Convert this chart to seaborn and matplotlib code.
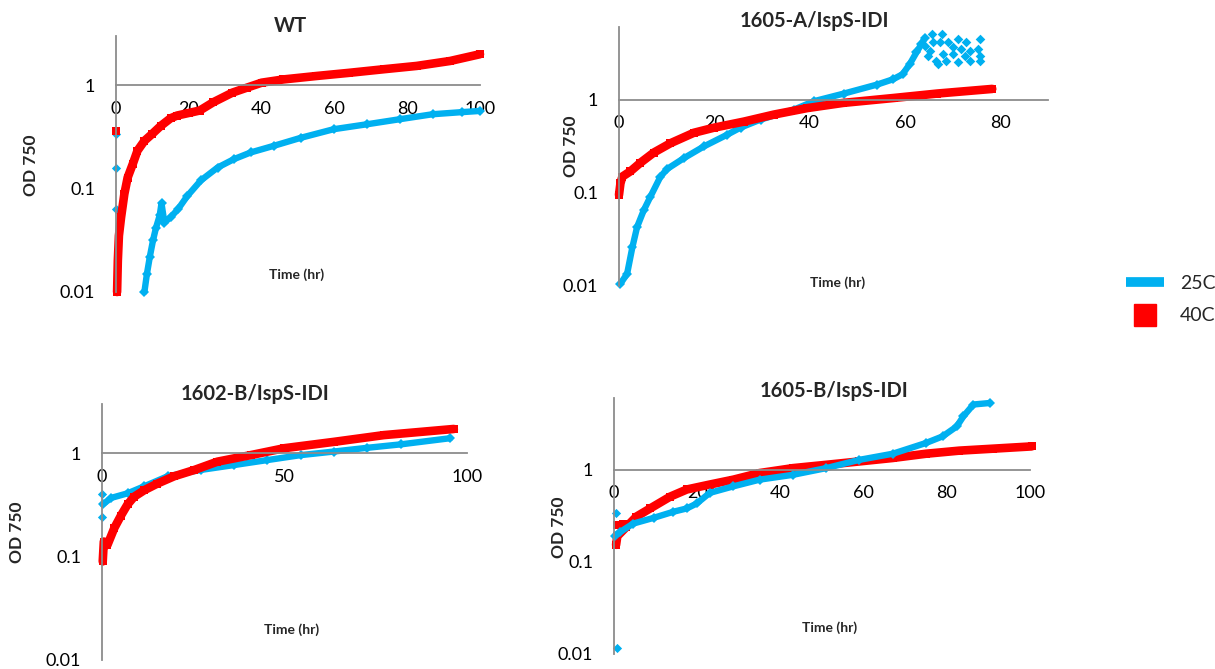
import numpy as np
import pandas as pd
import matplotlib
matplotlib.use("Agg")
import matplotlib.pyplot as plt
import seaborn as sns
from matplotlib.lines import Line2D
from matplotlib.ticker import FixedLocator, NullLocator

# ---------------- data ----------------
# WT
wt_25_t = [7.8, 8.5, 9.3, 10.2, 11.0, 12.0, 12.5, 13.3, 15, 17, 19.6, 23.3, 27.9, 32.4, 37, 43.4, 50.7, 59.8, 69, 78, 87, 95, 100]
wt_25_od = [0.010, 0.015, 0.022, 0.032, 0.042, 0.055, 0.072, 0.047, 0.053, 0.063, 0.085, 0.12, 0.16, 0.193, 0.224, 0.26, 0.31, 0.376, 0.42, 0.47, 0.525, 0.55, 0.565]
wt_25_out_t = [0, 0, 0]
wt_25_out_od = [0.34, 0.16, 0.064]
wt_40_t = [0.3, 0.5, 0.8, 1.4, 2.3, 3.2, 4.6, 5.9, 7.8, 10, 12.3, 15, 16.8, 20, 23, 26.7, 32, 36, 40, 46, 55, 64, 73.5, 82.6, 91.8, 100]
wt_40_od = [0.010, 0.020, 0.035, 0.053, 0.089, 0.128, 0.173, 0.233, 0.29, 0.34, 0.405, 0.48, 0.51, 0.54, 0.57, 0.685, 0.85, 0.95, 1.06, 1.14, 1.23, 1.32, 1.43, 1.54, 1.72, 2.0]
wt_40_out_t = [0]
wt_40_out_od = [0.36]

# 1605-A/IspS-IDI
a_25_t = [0.3, 1.7, 2.8, 3.8, 5.2, 6.6, 8.7, 10.1, 13.6, 17.8, 22.7, 25.5, 29.7, 36.7, 40.9, 47.2, 54.2, 57.5, 59.5, 61.0, 62.4, 63.4, 64.2]
a_25_od = [0.0106, 0.0135, 0.026, 0.043, 0.065, 0.091, 0.149, 0.18, 0.235, 0.314, 0.42, 0.5, 0.61, 0.78, 0.96, 1.16, 1.45, 1.65, 1.87, 2.4, 3.2, 3.9, 4.6]
a_25_sc_t = [65.6, 67.7, 65.9, 67.3, 69.0, 71.1, 72.9, 75.7, 70.1, 71.8, 73.6, 75.3, 68.0, 70.1, 72.5,
             75.7, 66.6, 68.7, 71.1, 73.6, 75.7, 65.2, 64.2, 64.8, 66.9]
a_25_sc_od = [5.04, 5.04, 4.10, 4.10, 4.10, 4.45, 4.10, 4.45, 3.62, 3.47, 3.34, 3.47, 3.07, 3.07, 2.95,
              2.95, 2.61, 2.61, 2.50, 2.61, 2.61, 3.34, 3.78, 2.95, 2.40]
a_40_t = [0, 0.3, 0.7, 2.4, 4.5, 7.3, 10.8, 15.7, 20, 26.2, 32.5, 39.5, 47, 57.7, 66.8, 78.3]
a_40_od = [0.095, 0.126, 0.149, 0.17, 0.21, 0.27, 0.34, 0.44, 0.5, 0.58, 0.69, 0.81, 0.92, 1.04, 1.16, 1.30]

# 1602-B/IspS-IDI
b2_25_t = [0.2, 2.5, 7, 11.6, 18, 27, 36.2, 45.3, 54.4, 63.5, 72.6, 81.8, 95.4]
b2_25_od = [0.32, 0.37, 0.41, 0.48, 0.6, 0.69, 0.77, 0.86, 0.96, 1.04, 1.13, 1.22, 1.40]
b2_25_out_t = [0, 0]
b2_25_out_od = [0.40, 0.24]
b2_40_t = [0.2, 0.5, 1.5, 3.4, 5.2, 7, 8.8, 11.6, 15.2, 19.8, 25.3, 31.6, 40.7, 49.9, 63.5, 77.2, 96.4]
b2_40_od = [0.09, 0.14, 0.13, 0.19, 0.25, 0.32, 0.38, 0.44, 0.51, 0.6, 0.69, 0.83, 0.96, 1.12, 1.29, 1.50, 1.72]

# 1605-B/IspS-IDI
b5_25_t = [0.2, 1.4, 4.6, 9.5, 14.3, 17.5, 19.9, 23, 28.7, 35, 43, 51, 59, 67, 75, 79, 82.4, 84, 86.4, 90.4]
b5_25_od = [0.19, 0.21, 0.26, 0.30, 0.35, 0.38, 0.43, 0.56, 0.66, 0.78, 0.88, 1.04, 1.28, 1.49, 1.95, 2.3, 2.95, 3.8, 5.1, 5.3]
b5_25_out_t = [0.5, 0.7]
b5_25_out_od = [0.34, 0.0117]
b5_40_t = [0.5, 0.8, 3, 5.4, 8.7, 13.5, 17.5, 23, 28.7, 35, 43, 51, 59, 67, 75, 83, 91, 100.4]
b5_40_od = [0.153, 0.19, 0.24, 0.31, 0.38, 0.51, 0.61, 0.69, 0.78, 0.92, 1.04, 1.13, 1.23, 1.34, 1.49, 1.61, 1.69, 1.79]
b5_40_out_t = [0.8, 2.2]
b5_40_out_od = [0.25, 0.26]

titles = ["WT", "1605-A/IspS-IDI", "1602-B/IspS-IDI", "1605-B/IspS-IDI"]
legend_labels = ["25C", "40C"]
y_ticks = [0.01, 0.1, 1]
y_ticklabels = ["0.01", "0.1", "1"]

# ---------------- style ----------------
sns.set_style("white")
plt.rcParams["font.family"] = ["Lato", "DejaVu Sans"]

BLUE = "#00B0F0"
RED = "#FF0000"
GRAY = "#8C8C8C"

W, H = 1215, 669
fig = plt.figure(figsize=(W / 100, H / 100), dpi=100)


def px_rect(left, top, right, bottom):
    return [left / W, 1 - bottom / H, (right - left) / W, (bottom - top) / H]


panels = [
    dict(rect=px_rect(116, 36, 480, 292), xlim=(0, 100), ylim=(0.01, 3.0),
         xticks=[0, 20, 40, 60, 80, 100], title_x=0.48, title_pad=3,
         xlab=(0.495, 0.094), ylab=(-0.2115, 0.496),
         blue=(wt_25_t, wt_25_od), red=(wt_40_t, wt_40_od),
         blue_out=(wt_25_out_t, wt_25_out_od), red_out=(wt_40_out_t, wt_40_out_od),
         blue_sc=None, red_first=False),
    dict(rect=px_rect(619, 27, 1048, 286), xlim=(0, 90), ylim=(0.01, 6.0),
         xticks=[0, 20, 40, 60, 80], title_x=0.455, title_pad=0,
         xlab=(0.51, 0.039), ylab=(-0.093, 0.538),
         blue=(a_25_t, a_25_od), red=(a_40_t, a_40_od),
         blue_out=None, red_out=None,
         blue_sc=(a_25_sc_t, a_25_sc_od), red_first=False),
    dict(rect=px_rect(102, 404, 467, 660), xlim=(0, 100), ylim=(0.01, 3.0),
         xticks=[0, 50, 100], title_x=0.42, title_pad=3,
         xlab=(0.52, 0.144), ylab=(-0.211, 0.498),
         blue=(b2_25_t, b2_25_od), red=(b2_40_t, b2_40_od),
         blue_out=(b2_25_out_t, b2_25_out_od), red_out=None,
         blue_sc=None, red_first=False),
    dict(rect=px_rect(614, 398, 1030, 654), xlim=(0, 100), ylim=(0.01, 6.0),
         xticks=[0, 20, 40, 60, 80, 100], title_x=0.529, title_pad=1,
         xlab=(0.517, 0.129), ylab=(-0.113, 0.496),
         blue=(b5_25_t, b5_25_od), red=(b5_40_t, b5_40_od),
         blue_out=(b5_25_out_t, b5_25_out_od), red_out=(b5_40_out_t, b5_40_out_od),
         blue_sc=None, red_first=True),
]


def draw_blue(ax, p):
    t, od = p["blue"]
    sns.lineplot(x=t, y=od, ax=ax, color=BLUE, linewidth=4.6, marker="D",
                 markersize=5, markeredgewidth=0, estimator=None, sort=False,
                 legend=False, clip_on=False)
    if p["blue_out"] is not None:
        sns.scatterplot(x=p["blue_out"][0], y=p["blue_out"][1], ax=ax, color=BLUE,
                        marker="D", s=22, linewidth=0, legend=False, clip_on=False)
    if p["blue_sc"] is not None:
        sns.scatterplot(x=p["blue_sc"][0], y=p["blue_sc"][1], ax=ax, color=BLUE,
                        marker="D", s=24, linewidth=0, legend=False, clip_on=False)


def draw_red(ax, p):
    t, od = p["red"]
    sns.lineplot(x=t, y=od, ax=ax, color=RED, linewidth=6.2, marker="s",
                 markersize=6, markeredgewidth=0, estimator=None, sort=False,
                 legend=False, clip_on=False)
    if p["red_out"] is not None:
        sns.scatterplot(x=p["red_out"][0], y=p["red_out"][1], ax=ax, color=RED,
                        marker="s", s=36, linewidth=0, legend=False, clip_on=False)


for title, p in zip(titles, panels):
    ax = fig.add_axes(p["rect"])
    if p["red_first"]:
        draw_red(ax, p)
        draw_blue(ax, p)
    else:
        draw_blue(ax, p)
        draw_red(ax, p)

    ax.set_yscale("log")
    ax.set_xlim(*p["xlim"])
    ax.set_ylim(*p["ylim"])

    for s in ("top", "right"):
        ax.spines[s].set_visible(False)
    ax.spines["bottom"].set_position(("data", 1))
    for s in ("bottom", "left"):
        ax.spines[s].set_color(GRAY)
        ax.spines[s].set_linewidth(1.3)

    ax.yaxis.set_major_locator(FixedLocator(y_ticks))
    ax.yaxis.set_minor_locator(NullLocator())
    ax.set_yticklabels(y_ticklabels)
    ax.set_xticks(p["xticks"])
    ax.set_xticklabels([str(v) for v in p["xticks"]])
    ax.xaxis.set_minor_locator(NullLocator())
    ax.tick_params(axis="x", length=0, labelsize=13, pad=11, colors="black")
    ax.tick_params(axis="y", length=0, labelsize=13, pad=15, colors="black")

    ax.set_title(title, fontsize=14.5, fontweight="bold", x=p["title_x"], pad=p["title_pad"])
    ax.set_xlabel("Time (hr)", fontsize=10, fontweight="bold")
    ax.xaxis.set_label_coords(*p["xlab"])
    ax.set_ylabel("OD 750", fontsize=12.5, fontweight="bold")
    ax.yaxis.set_label_coords(*p["ylab"])
    ax.set_facecolor("white")

handles = [
    Line2D([], [], color=BLUE, linewidth=7, solid_capstyle="butt"),
    Line2D([], [], color=RED, marker="s", markersize=16, linestyle="none"),
]
fig.legend(handles, legend_labels, loc="center left", bbox_to_anchor=(0.912, 0.552),
           frameon=False, fontsize=14, handlelength=2.0, labelspacing=0.8,
           handletextpad=0.8)

fig.savefig("out.png", dpi=100, facecolor="white")
